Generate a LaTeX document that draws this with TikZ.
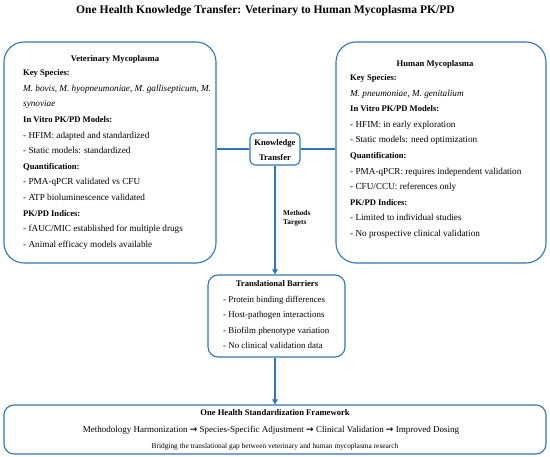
\documentclass[tikz,border=0pt]{standalone}
\usepackage{fontspec}
\setmainfont{Liberation Serif}
\newfontfamily\arrowfont{DejaVu Sans}
\usetikzlibrary{arrows.meta}
\definecolor{boxblue}{HTML}{2E75B6}
\newcommand\hd[1]{{\fontsize{8.6}{10}\selectfont\bfseries #1}}

\begin{document}
\begin{tikzpicture}[
				x=1pt, y=-1pt,
				every node/.style={inner sep=0pt, font=\fontsize{9.2}{10}\selectfont},
				panel/.style={draw=boxblue, line width=1.1pt, rounded corners=20pt},
				smallbox/.style={draw=boxblue, line width=1.1pt, rounded corners=7pt},
				link/.style={draw=boxblue, line width=1.1pt},
				flow/.style={link, -{Triangle[length=5pt, width=5.5pt]}},
				head/.style={font=\fontsize{8.6}{10}\selectfont\bfseries},
				line/.style={anchor=base west}
				]
				
				\useasboundingbox (0,0) rectangle (550,457);
				
				\node[font=\fontsize{11.6}{14}\selectfont\bfseries, anchor=base] (title) at (265.5,13.5)
					{One Health Knowledge Transfer: Veterinary to Human Mycoplasma PK/PD};
				
				\node[panel, minimum width=212pt, minimum height=221pt] (vet) at (110,152.5) {};
				\node[panel, minimum width=210pt, minimum height=221pt] (hum) at (441,152.5) {};
				\node[smallbox, minimum width=50pt, minimum height=32pt, rounded corners=5pt] (kt) at (275,149) {};
				\node[smallbox, minimum width=137pt, minimum height=82pt, rounded corners=10pt] (bar) at (276.5,316) {};
				\node[smallbox, minimum width=542pt, minimum height=49pt, rounded corners=10pt] (fw) at (275,429.5) {};
				
				\node[head, anchor=base] (vettitle) at (115,62) {Veterinary Mycoplasma};
				\foreach \txt [count=\i] in {
					{\hd{Key Species:}},
					{\textit{M. bovis, M. hyopneumoniae, M. gallisepticum, M.}},
					{\textit{synoviae}},
					{\hd{In Vitro PK/PD Models:}},
					{- HFIM: adapted and standardized},
					{- Static models: standardized},
					{\hd{Quantification:}},
					{- PMA-qPCR validated vs CFU},
					{- ATP bioluminescence validated},
					{\hd{PK/PD Indices:}},
					{- fAUC/MIC established for multiple drugs},
					{- Animal efficacy models available}}
					\node[line] (vl\i) at (23,{75.5+15.64*(\i-1)}) {\txt};
				
				\node[head, anchor=base] (humtitle) at (435,67) {Human Mycoplasma};
				\foreach \txt [count=\i] in {
					{\hd{Key Species:}},
					{\textit{M. pneumoniae, M. genitalium}},
					{\hd{In Vitro PK/PD Models:}},
					{- HFIM: in early exploration},
					{- Static models: need optimization},
					{\hd{Quantification:}},
					{- PMA-qPCR: requires independent validation},
					{- CFU/CCU: references only},
					{\hd{PK/PD Indices:}},
					{- Limited to individual studies},
					{- No prospective clinical validation}}
					\node[line] (hl\i) at (350,{80.5+15.6*(\i-1)}) {\txt};
				
				\node[head, anchor=base] (kt1) at (275,146) {Knowledge};
				\node[head, anchor=base] (kt2) at (275,161) {Transfer};
				
				\node[head, anchor=base] (bartitle) at (277,287) {Translational Barriers};
				\foreach \txt [count=\i] in {
					{- Protein binding differences},
					{- Host-pathogen interactions},
					{- Biofilm phenotype variation},
					{- No clinical validation data}}
					\node[line, font=\fontsize{8.9}{10}\selectfont] (bl\i) at (223,{302.5+15.3*(\i-1)}) {\txt};
				
				\node[font=\fontsize{7.3}{9}\selectfont\bfseries, anchor=north west, align=left] (methods) at (283,210.5)
					{Methods\\Targets};
				
				\node[head, anchor=base] (fwtitle) at (275,416) {One Health Standardization Framework};
				\node[font=\fontsize{9}{10}\selectfont, anchor=base] (fwsteps) at (271,433)
					{Methodology Harmonization {\arrowfont\bfseries→} Species-Specific Adjustment {\arrowfont\bfseries→} Clinical Validation {\arrowfont\bfseries→} Improved Dosing};
				\node[font=\fontsize{7.4}{8}\selectfont, anchor=base] (fwnote) at (275,448.5)
					{Bridging the translational gap between veterinary and human mycoplasma research};
				
				\draw[link] (kt.west) -- (kt.west -| vet.east);
				\draw[link] (kt.east) -- (kt.east -| hum.west);
				\draw[flow] (kt.south) -- (kt.south |- bar.north);
				\draw[flow] (bar.south -| kt.south) -- (fw.north -| kt.south);
				
			\end{tikzpicture}
\end{document}
